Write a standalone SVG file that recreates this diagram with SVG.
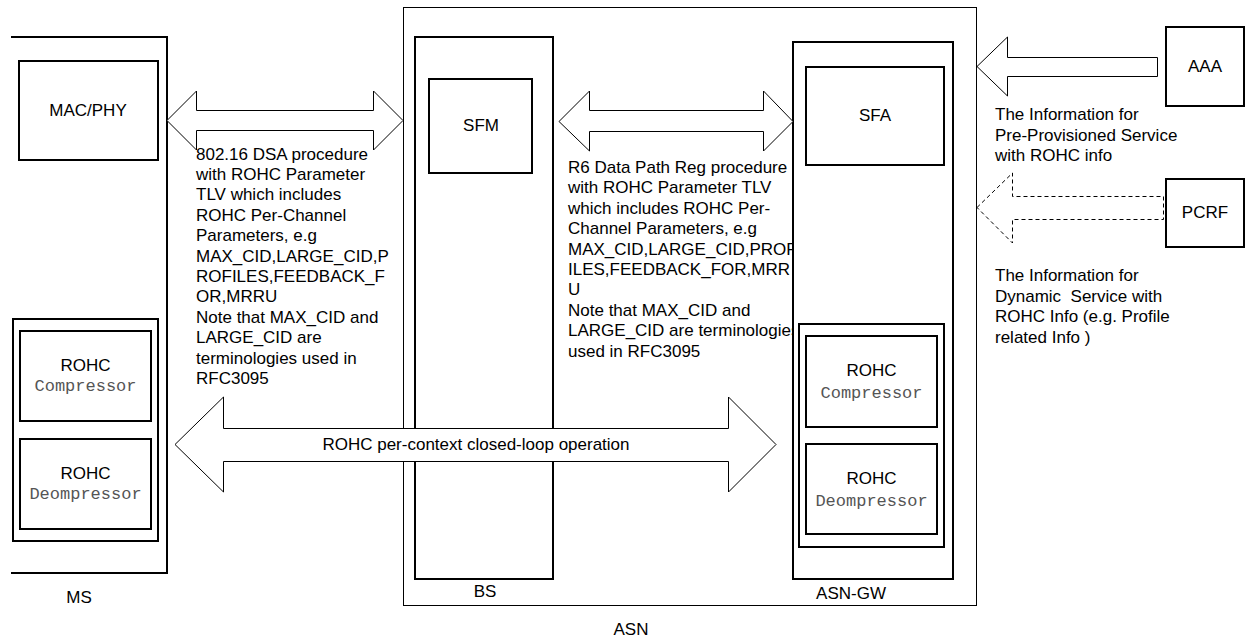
<svg xmlns="http://www.w3.org/2000/svg" width="1248" height="638" viewBox="0 0 1248 638">
<style>
  .box { fill: #ffffff; stroke: #000000; stroke-width: 2; }
  .thin { fill: #ffffff; stroke: #000000; stroke-width: 1; }
  .arrow { fill: #ffffff; stroke: #000000; stroke-width: 1; stroke-linejoin: miter; }
  .dashed { fill: #ffffff; stroke: #000000; stroke-width: 1; stroke-dasharray: 4 3; }
  text { font-family: "Liberation Sans", Arial, sans-serif; font-size: 17px; fill: #000000; }
  .c { text-anchor: middle; }
  .mono { font-family: "Liberation Mono", "Courier New", monospace; font-size: 17px; fill: #555555; text-anchor: middle; }
</style>
<rect width="1248" height="638" fill="#ffffff"/>

<g id="ms">
  <path class="box" d="M11,37 H167 V573 H11" fill="none"/>
  <text class="c" x="79" y="603">MS</text>
</g>
<g id="mac-phy">
  <rect class="box" x="19" y="61" width="139" height="99"/>
  <text class="c" x="88" y="116">MAC/PHY</text>
</g>
<g id="ms-rohc">
  <rect class="box" x="13" y="319" width="145" height="222"/>
</g>
<g id="ms-compressor">
  <rect class="box" x="20" y="331" width="131" height="90"/>
  <text class="c" x="85.5" y="371">ROHC</text>
  <text class="mono" x="85.5" y="391">Compressor</text>
</g>
<g id="ms-decompressor">
  <rect class="box" x="20" y="439" width="131" height="90"/>
  <text class="c" x="85.5" y="479">ROHC</text>
  <text class="mono" x="85.5" y="499">Deompressor</text>
</g>

<g id="asn">
  <rect class="thin" x="403.5" y="7.5" width="573" height="598"/>
  <text class="c" x="631" y="635">ASN</text>
</g>
<g id="bs">
  <rect class="box" x="415" y="37" width="138" height="542"/>
  <text class="c" x="485" y="597">BS</text>
</g>
<g id="sfm">
  <rect class="box" x="429" y="79" width="103" height="94"/>
  <text class="c" x="481" y="131">SFM</text>
</g>

<g id="labels">
  <text x="196" y="159.5">802.16 DSA procedure</text>
  <text x="196" y="179.9">with ROHC Parameter</text>
  <text x="196" y="200.3">TLV which includes</text>
  <text x="196" y="220.7">ROHC Per-Channel</text>
  <text x="196" y="241.1">Parameters, e.g</text>
  <text x="196" y="261.5">MAX_CID,LARGE_CID,P</text>
  <text x="196" y="281.9">ROFILES,FEEDBACK_F</text>
  <text x="196" y="302.3">OR,MRRU</text>
  <text x="196" y="322.7">Note that MAX_CID and</text>
  <text x="196" y="343.1">LARGE_CID are</text>
  <text x="196" y="363.5">terminologies used in</text>
  <text x="196" y="383.9">RFC3095</text>

  <text x="568" y="173">R6 Data Path Reg procedure</text>
  <text x="568" y="193.4">with ROHC Parameter TLV</text>
  <text x="568" y="213.8">which includes ROHC Per-</text>
  <text x="568" y="234.2">Channel Parameters, e.g</text>
  <text x="568" y="254.6">MAX_CID,LARGE_CID,PROF</text>
  <text x="568" y="275">ILES,FEEDBACK_FOR,MRR</text>
  <text x="568" y="295.4">U</text>
  <text x="568" y="315.8">Note that MAX_CID and</text>
  <text x="568" y="336.2">LARGE_CID are terminologies</text>
  <text x="568" y="356.6">used in RFC3095</text>

  <text x="995" y="120">The Information for</text>
  <text x="995" y="140.5">Pre-Provisioned Service</text>
  <text x="995" y="161">with ROHC info</text>

  <text x="995" y="281">The Information for</text>
  <text x="995" y="301.5" xml:space="preserve">Dynamic  Service with</text>
  <text x="995" y="322">ROHC Info (e.g. Profile</text>
  <text x="995" y="342.5">related Info )</text>
</g>

<g id="asn-gw">
  <rect class="box" x="793" y="42" width="160" height="537"/>
  <text class="c" x="851" y="599">ASN-GW</text>
</g>
<g id="sfa">
  <rect class="box" x="806" y="67" width="138" height="98"/>
  <text class="c" x="875" y="121">SFA</text>
</g>
<g id="gw-rohc">
  <rect class="box" x="799" y="324" width="145" height="223"/>
</g>
<g id="gw-compressor">
  <rect class="box" x="806" y="336" width="131" height="91"/>
  <text class="c" x="871.5" y="376">ROHC</text>
  <text class="mono" x="871.5" y="397.5">Compressor</text>
</g>
<g id="gw-decompressor">
  <rect class="box" x="806" y="444" width="131" height="90"/>
  <text class="c" x="871.5" y="484">ROHC</text>
  <text class="mono" x="871.5" y="505.5">Deompressor</text>
</g>
<g id="aaa">
  <rect class="box" x="1166" y="27" width="78" height="79"/>
  <text class="c" x="1205" y="72">AAA</text>
</g>
<g id="pcrf">
  <rect class="box" x="1166" y="179" width="78" height="68"/>
  <text class="c" x="1205" y="218">PCRF</text>
</g>

<g id="connectors">
  <polygon class="arrow" points="167,120.5 196.5,91 196.5,110.5 373.5,110.5 373.5,91 403,120.5 373.5,150 373.5,130.5 196.5,130.5 196.5,150"/>
  <polygon class="arrow" points="559,121.5 589.5,91 589.5,110.5 763.5,110.5 763.5,91 793,121.5 763.5,151 763.5,131.5 589.5,131.5 589.5,151"/>
  <polygon class="arrow" points="175,444.5 223.5,397 223.5,428.5 728.5,428.5 728.5,397 776,444.5 728.5,492 728.5,461.5 223.5,461.5 223.5,492"/>
  <text class="c" x="476" y="449.5">ROHC per-context closed-loop operation</text>
  <polygon class="arrow" points="977,66.5 1007.5,37 1007.5,57.5 1157.5,57.5 1157.5,76.5 1007.5,76.5 1007.5,96"/>
  <polygon class="dashed" points="977,207.5 1012.5,173 1012.5,196.5 1163.5,196.5 1163.5,219.5 1012.5,219.5 1012.5,243"/>
</g>
</svg>
